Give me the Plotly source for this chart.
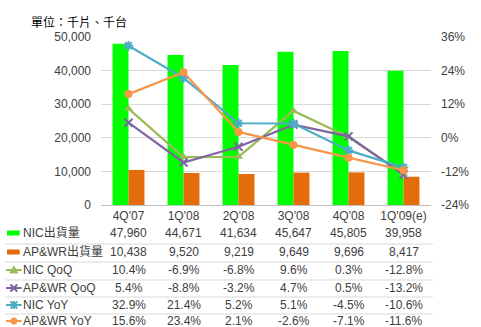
import plotly.graph_objects as go

# Quarterly shipments (thousand units) and growth rates (%)
quarters = ["4Q'07", "1Q'08", "2Q'08", "3Q'08", "4Q'08", "1Q'09(e)"]
nic_ship = [47960, 44671, 41634, 45647, 45805, 39958]
apwr_ship = [10438, 9520, 9219, 9649, 9696, 8417]
nic_qoq = [10.4, -6.9, -6.8, 9.6, 0.3, -12.8]
apwr_qoq = [5.4, -8.8, -3.2, 4.7, 0.5, -13.2]
nic_yoy = [32.9, 21.4, 5.2, 5.1, -4.5, -10.6]
apwr_yoy = [15.6, 23.4, 2.1, -2.6, -7.1, -11.6]

left_ticks = [0, 10000, 20000, 30000, 40000, 50000]
right_ticks = [-24, -12, 0, 12, 24, 36]
right_labels = ["-24%", "-12%", "0%", "12%", "24%", "36%"]

GREEN_BAR = "#00FF00"
ORANGE_BAR = "#E46C0A"
C_NIC_QOQ = "#9BBB59"
C_APWR_QOQ = "#8064A2"
C_NIC_YOY = "#4BACC6"
C_APWR_YOY = "#F79646"
TXT = "#404040"
FONT = "Arial, Liberation Sans, Noto Sans CJK TC, sans-serif"

# plot area in pixels
X0, X1, Y0, Y1 = 101, 438, 205, 37
W, H = 481, 327


def px(x):
    return (x - X0) / (X1 - X0)


def py(y):
    return (Y0 - y) / (Y0 - Y1)


fig = go.Figure()
fig.add_bar(x=quarters, y=nic_ship, name="NIC出貨量", marker=dict(color=GREEN_BAR, line_width=0))
fig.add_bar(x=quarters, y=apwr_ship, name="AP&WR出貨量", marker=dict(color=ORANGE_BAR, line_width=0))

lines = [
    ("NIC QoQ", nic_qoq, C_NIC_QOQ, dict(symbol="triangle-up", size=8)),
    ("AP&WR QoQ", apwr_qoq, C_APWR_QOQ, dict(symbol="x-thin-open", size=8, line=dict(width=2, color=C_APWR_QOQ))),
    ("NIC YoY", nic_yoy, C_NIC_YOY, dict(symbol="asterisk-open", size=8, line=dict(width=2, color=C_NIC_YOY))),
    ("AP&WR YoY", apwr_yoy, C_APWR_YOY, dict(symbol="circle", size=8)),
]
for name, vals, col, mk in lines:
    fig.add_scatter(x=quarters, y=vals, name=name, yaxis="y2", mode="lines+markers",
                    line=dict(color=col, width=2.2), marker=dict(color=col, **mk))

annotations = []
shapes = []

# Title
annotations.append(dict(text="單位：千片、千台", x=px(27), y=py(22), xref="paper", yref="paper",
                        xanchor="left", yanchor="middle", showarrow=False,
                        font=dict(size=12, color="#000000", family=FONT)))

# Data table rows
row_y = [233, 252, 270, 288, 305, 321]
sep_y = [244, 262, 280, 297, 314]
rows = [
    ("NIC出貨量", [f"{v:,}" for v in nic_ship]),
    ("AP&WR出貨量", [f"{v:,}" for v in apwr_ship]),
    ("NIC QoQ", [f"{v:.1f}%" for v in nic_qoq]),
    ("AP&WR QoQ", [f"{v:.1f}%" for v in apwr_qoq]),
    ("NIC YoY", [f"{v:.1f}%" for v in nic_yoy]),
    ("AP&WR YoY", [f"{v:.1f}%" for v in apwr_yoy]),
]
for (label, cells), ry in zip(rows, row_y):
    annotations.append(dict(text=label, x=px(19), y=py(ry), xref="paper", yref="paper",
                            xanchor="left", yanchor="middle", showarrow=False,
                            font=dict(size=12, color=TXT, family=FONT)))
    for q, c in zip(quarters, cells):
        annotations.append(dict(text=c, x=q, y=py(ry), xref="x", yref="paper",
                                xanchor="center", yanchor="middle", showarrow=False,
                                font=dict(size=12, color=TXT, family=FONT)))

for sy in sep_y:
    shapes.append(dict(type="line", xref="paper", yref="paper", x0=px(3), x1=px(440),
                       y0=py(sy), y1=py(sy), line=dict(color="#D9D9D9", width=1)))

# Legend keys inside the table
def key_rect(ry, col):
    shapes.append(dict(type="rect", xref="paper", yref="paper", x0=px(5), x1=px(18),
                       y0=py(ry + 2.5), y1=py(ry - 2.5), fillcolor=col, line_width=0))


def key_line(ry, col):
    shapes.append(dict(type="line", xref="paper", yref="paper", x0=px(4), x1=px(20),
                       y0=py(ry), y1=py(ry), line=dict(color=col, width=2)))


key_rect(row_y[0], GREEN_BAR)
key_rect(row_y[1], ORANGE_BAR)

cx = 12
# triangle
ry = row_y[2]
key_line(ry, C_NIC_QOQ)
shapes.append(dict(type="path", xref="paper", yref="paper",
                   path=f"M {px(cx-4)},{py(ry+3)} L {px(cx+4)},{py(ry+3)} L {px(cx)},{py(ry-4)} Z",
                   fillcolor=C_NIC_QOQ, line=dict(color=C_NIC_QOQ, width=1)))
# x marker
ry = row_y[3]
key_line(ry, C_APWR_QOQ)
for dx in (1, -1):
    shapes.append(dict(type="line", xref="paper", yref="paper", x0=px(cx - 3.5 * dx), x1=px(cx + 3.5 * dx),
                       y0=py(ry - 3.5), y1=py(ry + 3.5), line=dict(color=C_APWR_QOQ, width=2)))
# asterisk marker
ry = row_y[4]
key_line(ry, C_NIC_YOY)
for dx in (1, -1):
    shapes.append(dict(type="line", xref="paper", yref="paper", x0=px(cx - 3.5 * dx), x1=px(cx + 3.5 * dx),
                       y0=py(ry - 3.5), y1=py(ry + 3.5), line=dict(color=C_NIC_YOY, width=2)))
shapes.append(dict(type="line", xref="paper", yref="paper", x0=px(cx), x1=px(cx),
                   y0=py(ry - 4), y1=py(ry + 4), line=dict(color=C_NIC_YOY, width=2)))
# circle
ry = row_y[5]
key_line(ry, C_APWR_YOY)
shapes.append(dict(type="circle", xref="paper", yref="paper", x0=px(cx - 3.5), x1=px(cx + 3.5),
                   y0=py(ry + 3.5), y1=py(ry - 3.5), fillcolor=C_APWR_YOY, line_width=0))

fig.update_layout(
    width=W, height=H,
    margin=dict(l=X0, r=W - X1, t=Y1, b=H - Y0, pad=0),
    paper_bgcolor="white", plot_bgcolor="white",
    showlegend=False,
    barmode="group", bargap=0.42, bargroupgap=0,
    font=dict(family=FONT, size=12, color=TXT),
    xaxis=dict(type="category", showgrid=False, ticks="", showline=True, linecolor="#BFBFBF",
               linewidth=1, tickfont=dict(size=12, color=TXT)),
    yaxis=dict(range=[0, 50000], tickvals=left_ticks, tickformat=",", showgrid=True,
               gridcolor="#D9D9D9", gridwidth=1, zeroline=False, showline=False,
               ticklabelstandoff=9, tickfont=dict(size=12, color=TXT)),
    yaxis2=dict(range=[-24, 36], tickmode="array", tickvals=right_ticks, ticktext=right_labels,
                overlaying="y", side="right", showgrid=False, zeroline=False, showline=False,
                ticklabelstandoff=9, tickfont=dict(size=12, color=TXT)),
    annotations=annotations,
    shapes=shapes,
)

fig.write_html("out.html")
